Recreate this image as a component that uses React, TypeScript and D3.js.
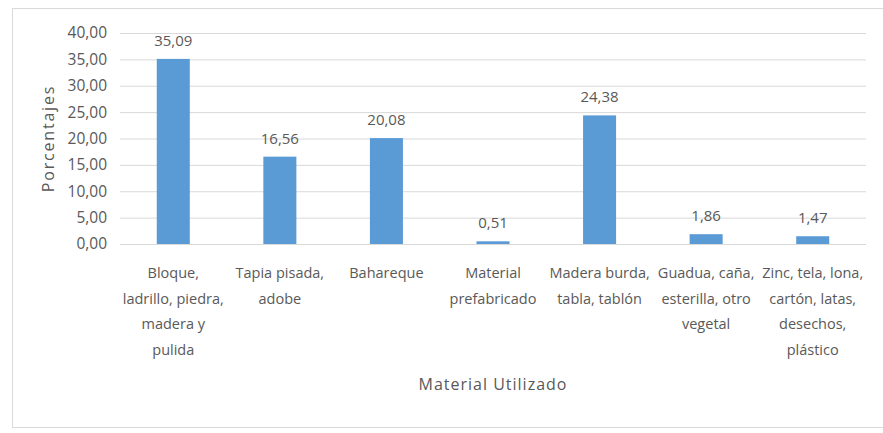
import React from 'react';
import * as d3 from 'd3';

const categories: string[][] = [
  ['Bloque,', 'ladrillo, piedra,', 'madera y', 'pulida'],
  ['Tapia pisada,', 'adobe'],
  ['Bahareque'],
  ['Material', 'prefabricado'],
  ['Madera burda,', 'tabla, tablón'],
  ['Guadua, caña,', 'esterilla, otro', 'vegetal'],
  ['Zinc, tela, lona,', 'cartón, latas,', 'desechos,', 'plástico'],
];
const values = [35.09, 16.56, 20.08, 0.51, 24.38, 1.86, 1.47];
const yTicks = [0, 5, 10, 15, 20, 25, 30, 35, 40];

const W = 883;
const H = 433;
const FONT = '"Open Sans", Roboto, sans-serif';
const TEXT = '#595959';

const fmt = (v: number) => v.toFixed(2).replace('.', ',');

const App: React.FC = () => {
  const x = d3.scaleBand<number>().domain(d3.range(categories.length)).range([120, 866]).paddingInner(0.69).paddingOuter(0.345);
  const y = d3.scaleLinear().domain([0, 40]).range([244, 33]);

  return (
    <svg width={W} height={H} style={{ position: 'absolute', left: 0, top: 0, background: '#fff' }} fontFamily={FONT}>
      <rect x={12.5} y={8.5} width={880} height={419} fill="#fff" stroke="#d9d9d9" />
      {yTicks.map(t => (
        <g key={t}>
          <line x1={120} x2={866} y1={y(t) + 0.5} y2={y(t) + 0.5} stroke="#d9d9d9" strokeWidth={1} />
          <text x={107} y={y(t)} dy="0.35em" textAnchor="end" fontSize={15.5} fill={TEXT}>{fmt(t)}</text>
        </g>
      ))}
      {values.map((v, i) => (
        <g key={i}>
          <rect x={x(i)} y={y(v)} width={x.bandwidth()} height={y(0) - y(v)} fill="#5B9BD5" />
          <text x={(x(i) ?? 0) + x.bandwidth() / 2} y={y(v) - 13} textAnchor="middle" fontSize={15} fill={TEXT}>{fmt(v)}</text>
        </g>
      ))}
      {categories.map((lines, i) => (
        <text key={i} x={(x(i) ?? 0) + x.bandwidth() / 2} y={278} textAnchor="middle" fontSize={14.5} fill={TEXT}>
          {lines.map((l, j) => (
            <tspan key={j} x={(x(i) ?? 0) + x.bandwidth() / 2} dy={j === 0 ? 0 : 25.5}>{l}</tspan>
          ))}
        </text>
      ))}
      <text x={493} y={390} textAnchor="middle" fontSize={16} fill={TEXT} letterSpacing={1}>Material Utilizado</text>
      <text transform={`translate(54,${y(20)}) rotate(-90)`} textAnchor="middle" fontSize={16} fill={TEXT} letterSpacing={1.8}>Porcentajes</text>
    </svg>
  );
};

export default App;
